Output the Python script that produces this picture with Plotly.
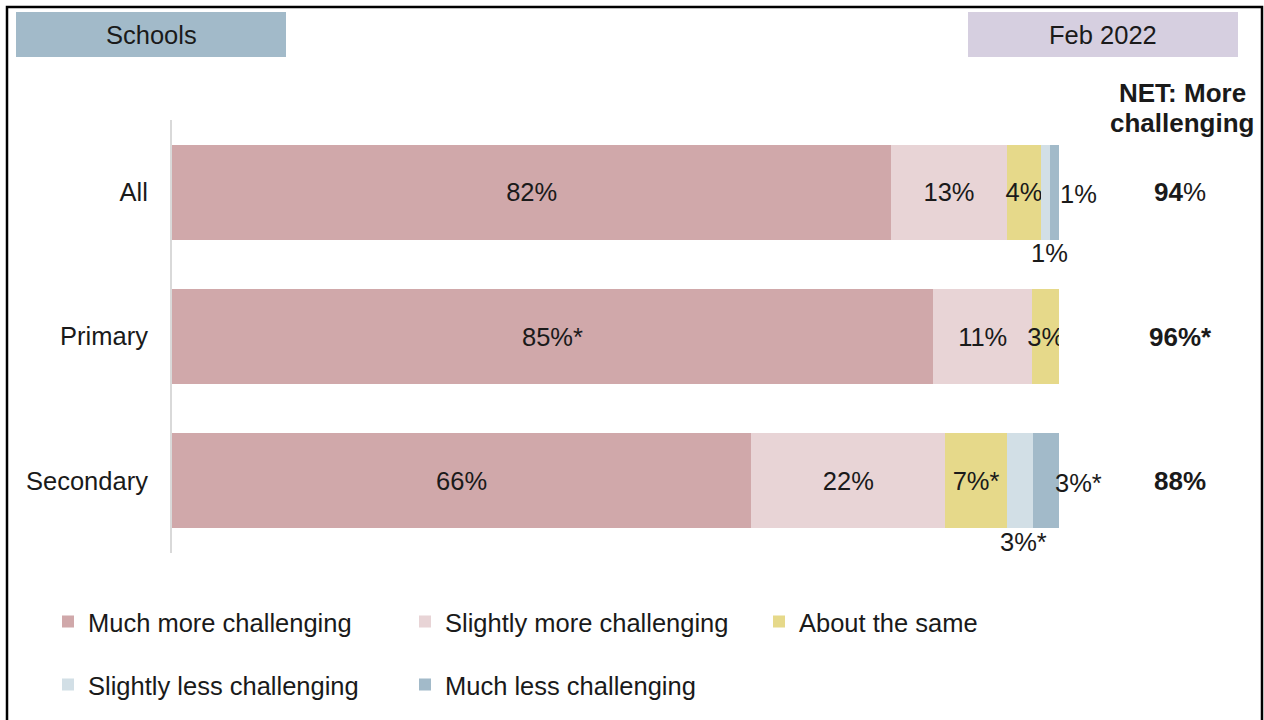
import plotly.graph_objects as go

# data (bar widths in % of respondents)
categories = ["All", "Primary", "Secondary"]
much_more = [81.1, 85.8, 65.3]
slightly_more = [13.0, 11.2, 21.9]
about_same = [3.9, 3.0, 6.9]
slightly_less = [1.0, 0.0, 3.0]
much_less = [1.0, 0.0, 2.9]

much_more_lbl = ["82%", "85%*", "66%"]
slightly_more_lbl = ["13%", "11%", "22%"]
about_same_lbl = ["4%", "3%", "7%*"]
slightly_less_lbl = ["1%", "", "3%*"]
much_less_lbl = ["1%", "", "3%*"]

net_lbl = ["<b>94</b>%", "<b>96%*</b>", "<b>88%</b>"]

FONT = "Liberation Sans, Arial, sans-serif"
TXT = "#1a1a1a"
FS = 25.5

# plot area in pixels
L, R, T, B = 172, 1059, 120, 553
W, H = R - L, B - T


def px(x):
    return (x - L) / W


def py(y):
    return (B - y) / H


series = [
    ("Much more challenging", much_more, much_more_lbl, "#d0a8aa", "legend", "inside"),
    ("Slightly more challenging", slightly_more, slightly_more_lbl, "#e8d4d6", "legend", "inside"),
    ("About the same", about_same, about_same_lbl, "#e6d98a", "legend3", "inside"),
    ("Slightly less challenging", slightly_less, slightly_less_lbl, "#d2dfe6", "legend2", "none"),
    ("Much less challenging", much_less, much_less_lbl, "#a2bac9", "legend2", "none"),
]

fig = go.Figure()
for name, vals, lbls, col, leg, tpos in series:
    fig.add_trace(go.Bar(
        y=categories, x=vals, name=name, orientation="h",
        marker=dict(color=col, line=dict(width=0)),
        text=lbls, textposition=tpos, insidetextanchor="middle",
        constraintext="none", textangle=0,
        textfont=dict(family=FONT, size=FS, color=TXT),
        legend=leg, hoverinfo="skip",
    ))

ann = []
# labels for the small segments, placed outside the bars
for i, c in enumerate(categories):
    start = much_more[i] + slightly_more[i] + about_same[i]
    if slightly_less_lbl[i]:
        ann.append(dict(x=start + slightly_less[i] / 2, y=c, xref="x", yref="y",
                        text=slightly_less_lbl[i], showarrow=False,
                        xshift=4, yshift=-61))
    if much_less_lbl[i]:
        end = start + slightly_less[i] + much_less[i]
        ann.append(dict(x=end, y=c, xref="x", yref="y", text=much_less_lbl[i],
                        showarrow=False, xshift=19, yshift=-2))
    ann.append(dict(x=px(1180), y=c, xref="paper", yref="y", text=net_lbl[i],
                    showarrow=False, xanchor="center", font=dict(size=26)))

for txt, yy in [("<b>NET: More</b>", 93), ("<b>challenging</b>", 123)]:
    ann.append(dict(x=px(1182), y=py(yy), xref="paper", yref="paper", text=txt,
                    showarrow=False, xanchor="center", yanchor="middle",
                    font=dict(size=26)))
ann.append(dict(x=px(151), y=py(34.5), xref="paper", yref="paper", text="Schools",
                showarrow=False, xanchor="center", yanchor="middle"))
ann.append(dict(x=px(1103), y=py(34.5), xref="paper", yref="paper", text="Feb 2022",
                showarrow=False, xanchor="center", yanchor="middle"))

shapes = [
    dict(type="rect", xref="paper", yref="paper", x0=px(16), x1=px(286),
         y0=py(57), y1=py(12), fillcolor="#a2bac9", line=dict(width=0), layer="below"),
    dict(type="rect", xref="paper", yref="paper", x0=px(968), x1=px(1238),
         y0=py(57), y1=py(12), fillcolor="#d6cfe0", line=dict(width=0), layer="below"),
    dict(type="rect", xref="paper", yref="paper", x0=px(7), x1=px(1262),
         y0=py(740), y1=py(7), line=dict(color="black", width=2.5)),
]

legend_common = dict(
    orientation="h", xanchor="left", yanchor="middle",
    font=dict(family=FONT, size=FS, color=TXT),
    entrywidth=312, entrywidthmode="pixels", bgcolor="rgba(0,0,0,0)",
    traceorder="normal",
)

fig.update_layout(
    width=1264, height=720,
    margin=dict(l=L, r=1264 - R, t=T, b=720 - B, pad=0, autoexpand=False),
    paper_bgcolor="white", plot_bgcolor="white",
    font=dict(family=FONT, size=FS, color=TXT),
    barmode="stack", bargap=0.34,
    xaxis=dict(range=[0, 100], visible=False, fixedrange=True),
    yaxis=dict(categoryorder="array", categoryarray=categories, range=[2.5, -0.5],
               showline=True, linecolor="#d9d9d9", linewidth=2, showgrid=False,
               ticks="", ticklabelstandoff=17, tickfont=dict(family=FONT, size=FS, color=TXT)),
    legend=dict(x=px(48), y=py(622), **legend_common),
    legend3=dict(x=px(759), y=py(622), **legend_common),
    legend2=dict(x=px(48), y=py(685), **legend_common),
    annotations=ann, shapes=shapes,
    showlegend=True,
)

fig.write_html("out.html", config={"displayModeBar": False},
               post_script="document.body.style.margin='0';document.body.style.overflow='hidden';")
